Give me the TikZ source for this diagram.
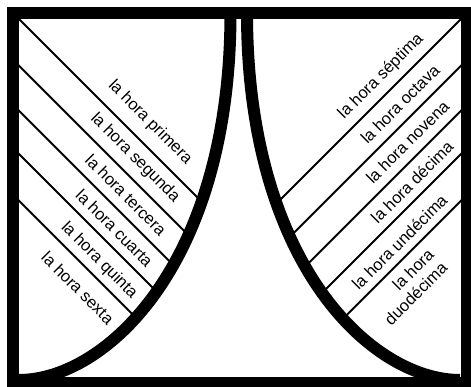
\documentclass[tikz,border=0pt]{standalone}
\usepackage{fontspec}
\setmainfont{Liberation Sans}
\begin{document}
\begin{tikzpicture}[x=1pt,y=-1pt,
  frame/.style={line width=12pt},
  curve/.style={line width=12pt},
  divline/.style={line width=2pt},
  lbl/.style={font=\fontsize{16.5}{19}\selectfont, inner sep=0pt}]
\useasboundingbox (0,0) rectangle (471,387);
\fill[white] (0,0) rectangle (471,387);
% dividing lines, left half
\foreach \c/\xe in {0/200,46.7/186,91.7/171,135/155,181.7/135}{
  \draw[divline] (15,15+\c) -- (\xe,\xe+\c);
}
% dividing lines, right half
\foreach \c/\xe in {0/200,46.7/186,91.7/171,135/155,181.7/135}{
  \draw[divline] (464,16+\c) -- (479.5-\xe,\c+\xe+0.5);
}
% curves
\draw[curve] (230.5,13) .. controls (230.5,265) and (105,380) .. (19,380);
\draw[curve] (247,13) .. controls (247,265) and (372.5,380) .. (460,380);
% frame
\draw[frame] (13,13) rectangle (467,383);
% labels left
\node[lbl,rotate=-45] (h1) at (150,122.5) {la hora primera};
\node[lbl,rotate=-45] (h2) at (135,158) {la hora segunda};
\node[lbl,rotate=-45] (h3) at (126,195) {la hora tercera};
\node[lbl,rotate=-45] (h4) at (114.5,228) {la hora cuarta};
\node[lbl,rotate=-45] (h5) at (99,260.5) {la hora quinta};
\node[lbl,rotate=-45] (h6) at (78,288) {la hora sexta};
% labels right
\node[lbl,rotate=45] (h7) at (381,76.5) {la hora séptima};
\node[lbl,rotate=45] (h8) at (400,104) {la hora octava};
\node[lbl,rotate=45] (h9) at (407.5,142) {la hora novena};
\node[lbl,rotate=45] (h10) at (412,182) {la hora décima};
\node[lbl,rotate=45] (h11) at (399.5,242) {la hora undécima};
\node[lbl,rotate=45,align=right] (h12) at (409,287) {la hora\\duodécima};
\end{tikzpicture}
\end{document}
